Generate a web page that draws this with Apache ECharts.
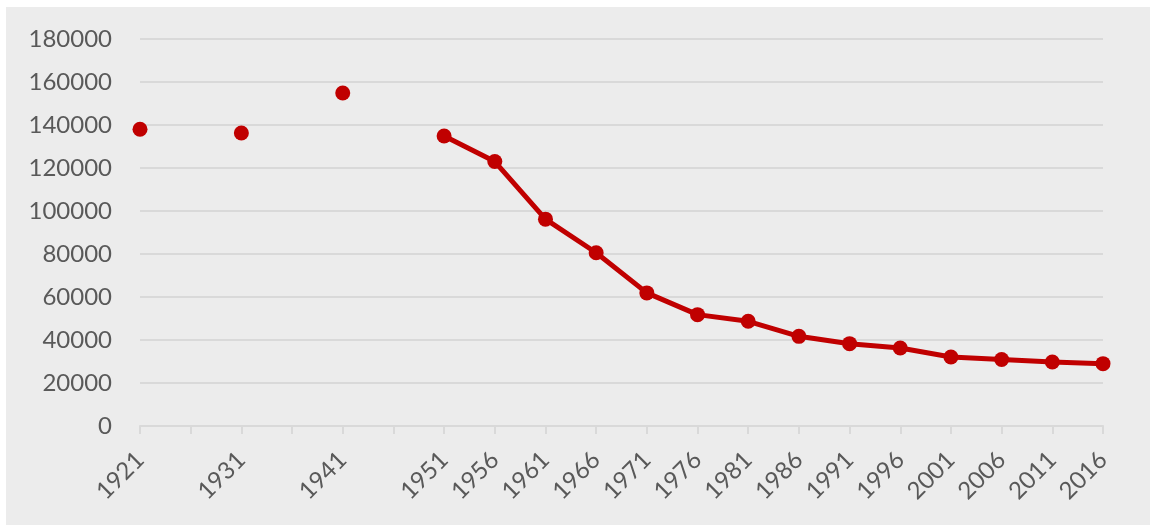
<!DOCTYPE html>
<html>
<head>
<meta charset="utf-8">
<script src="https://cdn.jsdelivr.net/npm/echarts@6/dist/echarts.min.js"></script>
<style>
  html, body { margin: 0; padding: 0; background: #fff; }
  #chart { position: absolute; left: 6px; top: 7px; width: 1144px; height: 518px; background: #ececec; }
</style>
</head>
<body>
<div id="chart"></div>
<script>
// census years (1926/1936/1946 kept as empty slots)
var years = ['1921', '1926', '1931', '1936', '1941', '1946', '1951', '1956', '1961', '1966',
  '1971', '1976', '1981', '1986', '1991', '1996', '2001', '2006', '2011', '2016'];
var hiddenYears = ['1926', '1936', '1946'];
// early isolated points
var earlyPop = [138000, null, 136300, null, 154900, null];
// connected series from 1951 on
var laterPop = [134900, 123000, 96200, 80600, 61900, 51800, 48700, 41700, 38300, 36300,
  32100, 30900, 29800, 29000];

var yTicks = { min: 0, max: 180000, interval: 20000 };

var pointData = earlyPop.concat(laterPop.map(function () { return null; }));
var lineData = earlyPop.map(function () { return null; }).concat(laterPop);

var chartDom = document.getElementById('chart');
var myChart = echarts.init(chartDom);
var red = '#c00000';
var textColor = '#595959';

var option = {
  animation: false,
  backgroundColor: '#ececec',
  grid: { left: 134, right: 47, top: 32, bottom: 99 },
  xAxis: {
    type: 'category',
    data: years,
    boundaryGap: false,
    axisLine: { lineStyle: { color: '#d9d9d9', width: 2 } },
    axisTick: { show: true, length: 8, interval: 0, lineStyle: { color: '#d9d9d9', width: 2 } },
    axisLabel: {
      interval: 0,
      rotate: 45,
      margin: 30,
      color: textColor,
      fontFamily: 'Lato',
      fontSize: 24,
      formatter: function (v) { return hiddenYears.indexOf(v) >= 0 ? '' : v; }
    },
    splitLine: { show: false }
  },
  yAxis: {
    type: 'value',
    min: yTicks.min,
    max: yTicks.max,
    interval: yTicks.interval,
    axisLine: { show: false },
    axisTick: { show: false },
    axisLabel: {
      color: textColor, fontFamily: 'Lato', fontSize: 24, margin: 28,
      formatter: function (v) { return String(v); }
    },
    splitLine: { lineStyle: { color: '#d9d9d9', width: 2 } }
  },
  series: [
    {
      type: 'line',
      data: pointData,
      symbol: 'circle',
      symbolSize: 15,
      showAllSymbol: true,
      connectNulls: false,
      itemStyle: { color: red },
      lineStyle: { width: 0 }
    },
    {
      type: 'line',
      data: lineData,
      symbol: 'circle',
      symbolSize: 15,
      showAllSymbol: true,
      connectNulls: false,
      itemStyle: { color: red },
      lineStyle: { color: red, width: 5 }
    }
  ]
};

option && myChart.setOption(option);
</script>
</body>
</html>
